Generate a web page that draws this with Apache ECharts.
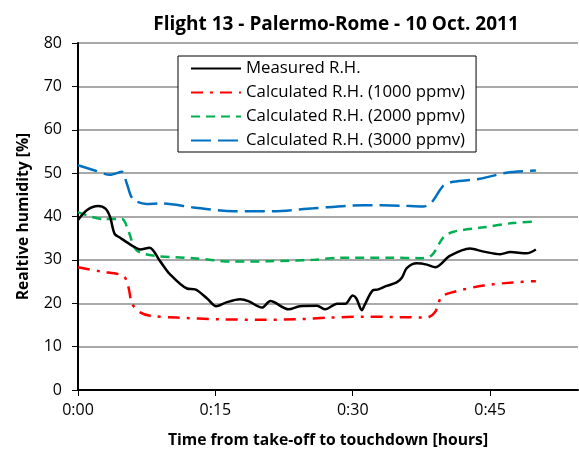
<!DOCTYPE html>
<html>
<head>
<meta charset="utf-8">
<script src="https://cdn.jsdelivr.net/npm/echarts@6/dist/echarts.min.js"></script>
<style>
  html, body { margin: 0; padding: 0; background: #fff; }
  #chart { width: 579px; height: 454px; }
</style>
</head>
<body>
<div id="chart"></div>
<script>
// Time in minutes after take-off, relative humidity in %
const measuredT = [0, 1.0, 2.2, 3.0, 3.5, 4.0, 4.6, 5.9, 6.8, 7.8, 9.0, 10.0, 11.9, 12.8, 14.1, 15.1, 16.2, 17.7, 18.6, 20.1, 21.0, 23.0, 24.2, 26.1, 27.0, 28.3, 29.2, 30.0, 30.4, 31.0, 31.3, 32.2, 32.8, 33.7, 34.8, 35.4, 35.9, 37.0, 38.1, 39.0, 40.6, 42.8, 44.3, 46.1, 47.2, 49.0, 50.0];
const measuredRH = [39.2, 41.5, 42.4, 41.8, 39.9, 36.0, 35.1, 33.3, 32.4, 32.8, 29.6, 26.8, 23.4, 23.2, 21.1, 19.3, 20.2, 20.9, 20.5, 19.0, 20.5, 18.6, 19.3, 19.4, 18.6, 19.9, 19.9, 21.8, 21.1, 18.4, 19.6, 23.0, 23.2, 24.0, 24.8, 26.0, 28.1, 29.2, 28.9, 28.3, 30.9, 32.6, 31.9, 31.3, 31.8, 31.5, 32.4];

const rh1000T = [0, 2.5, 4.95, 5.5, 5.9, 6.8, 7.9, 10.8, 15.5, 20.0, 23.9, 27.5, 31.2, 35.2, 38.1, 39.0, 39.7, 41.0, 44.3, 47.5, 50.0];
const rh1000 = [28.3, 27.3, 26.3, 23.8, 19.9, 17.9, 17.1, 16.7, 16.3, 16.2, 16.3, 16.7, 16.9, 16.8, 16.7, 18.0, 21.5, 22.6, 24.1, 24.8, 25.1];

const rh2000T = [0, 2.8, 4.8, 5.5, 6.4, 8.6, 12.6, 17.0, 21.0, 25.7, 28.6, 34.1, 37.4, 38.6, 39.9, 41.0, 44.3, 47.5, 50.0];
const rh2000 = [41.0, 39.4, 39.4, 36.7, 32.2, 30.9, 30.4, 29.6, 29.7, 30.0, 30.5, 30.5, 30.4, 31.0, 35.2, 36.5, 37.5, 38.5, 38.8];

const rh3000T = [0, 2.0, 3.5, 4.8, 5.3, 6.0, 7.5, 9.0, 12.6, 17.0, 21.3, 25.7, 31.2, 35.2, 37.7, 38.6, 39.9, 41.0, 43.9, 46.8, 50.0];
const rh3000 = [51.8, 50.5, 49.6, 50.3, 47.8, 44.0, 42.9, 43.0, 42.1, 41.2, 41.2, 41.9, 42.6, 42.5, 42.3, 43.2, 47.1, 48.0, 48.7, 50.1, 50.6];

const seriesNames = ['Measured R.H.', 'Calculated R.H. (1000 ppmv)', 'Calculated R.H. (2000 ppmv)', 'Calculated R.H. (3000 ppmv)'];
const yTicks = [0, 10, 20, 30, 40, 50, 60, 70, 80];

const pair = (t, v) => t.map((x, i) => [x, v[i]]);
const FONT = 'Open Sans';

const chart = echarts.init(document.getElementById('chart'), null, { renderer: 'canvas' });
chart.setOption({
  animation: false,
  backgroundColor: '#fff',
  title: {
    text: 'Flight 13 - Palermo-Rome - 10 Oct. 2011',
    left: 331, top: 10, textAlign: 'center',
    textStyle: { fontFamily: FONT, fontSize: 19, fontWeight: 'bold', color: '#000' }
  },
  grid: { left: 78, right: 1, top: 43, bottom: 62, containLabel: false },
  legend: {
    orient: 'vertical', left: 178, top: 56,
    padding: [4, 11, 3, 12],
    backgroundColor: '#fff', borderColor: '#000', borderWidth: 1,
    itemWidth: 50, itemHeight: 14, itemGap: 7,
    itemStyle: { opacity: 0 },
    textStyle: { fontFamily: FONT, fontSize: 16.8, color: '#000' },
    data: seriesNames
  },
  xAxis: {
    type: 'value', min: 0, max: 54.6, interval: 15,
    name: 'Time from take-off to touchdown [hours]',
    nameLocation: 'middle', nameGap: 43,
    nameTextStyle: { fontFamily: FONT, fontSize: 15.7, fontWeight: 'bold', color: '#000' },
    axisLine: { lineStyle: { color: '#000', width: 2 } },
    axisTick: { show: true, inside: false, length: 6, lineStyle: { color: '#000', width: 1 } },
    axisLabel: {
      fontFamily: FONT, fontSize: 16, color: '#000', margin: 12,
      showMaxLabel: false,
      formatter: v => '0:' + String(Math.round(v)).padStart(2, '0')
    },
    splitLine: { show: false }
  },
  yAxis: {
    type: 'value', min: yTicks[0], max: yTicks[yTicks.length - 1], interval: 10,
    name: 'Realtive humidity [%]',
    nameLocation: 'middle', nameGap: 46, nameRotate: 90,
    nameTextStyle: { fontFamily: FONT, fontSize: 15.7, fontWeight: 'bold', color: '#000' },
    axisLine: { show: true, lineStyle: { color: '#000', width: 2 } },
    axisTick: { show: true, inside: false, length: 6, lineStyle: { color: '#000', width: 1 } },
    axisLabel: { fontFamily: FONT, fontSize: 16, color: '#000', margin: 16 },
    splitLine: { show: true, lineStyle: { color: '#8c8c8c', width: 1.5 } }
  },
  series: [
    {
      name: seriesNames[1], type: 'line', data: pair(rh1000T, rh1000),
      smooth: 0.3, symbol: 'none', color: '#ff0000',
      lineStyle: { color: '#ff0000', width: 2.5, type: [12, 7, 3, 7] }
    },
    {
      name: seriesNames[2], type: 'line', data: pair(rh2000T, rh2000),
      smooth: 0.3, symbol: 'none', color: '#00b050',
      lineStyle: { color: '#00b050', width: 2.5, type: [9, 6] }
    },
    {
      name: seriesNames[3], type: 'line', data: pair(rh3000T, rh3000),
      smooth: 0.3, symbol: 'none', color: '#0070c0',
      lineStyle: { color: '#0070c0', width: 2.5, type: [20, 7] }
    },
    {
      name: seriesNames[0], type: 'line', data: pair(measuredT, measuredRH),
      smooth: 0.3, symbol: 'none', color: '#000',
      lineStyle: { color: '#000', width: 2.5, type: 'solid' }
    }
  ]
});
</script>
</body>
</html>
